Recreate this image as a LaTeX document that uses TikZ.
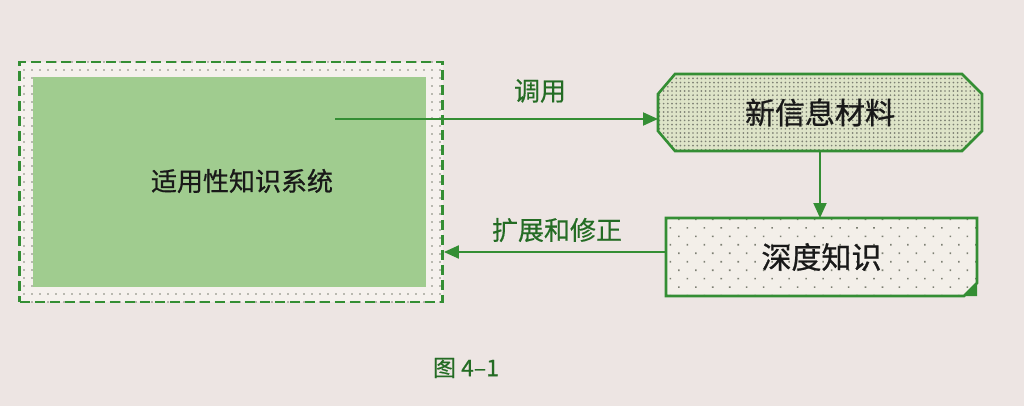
\documentclass[tikz,border=0pt]{standalone}
\usepackage{fontspec}
\newfontfamily\cjk{Noto Sans CJK SC}[FakeBold=0.8]
\newfontfamily\cjklbl{Noto Sans CJK SC}[FakeBold=0.5]
\usetikzlibrary{arrows.meta,patterns.meta,calc,backgrounds}
\definecolor{bg}{RGB}{237,229,227}
\definecolor{lgreen}{RGB}{160,204,143}
\definecolor{lineg}{RGB}{52,142,52}
\definecolor{txtg}{RGB}{36,108,36}
\definecolor{ringfill}{RGB}{245,241,237}
\definecolor{newfill}{RGB}{222,228,200}
\definecolor{deepfill}{RGB}{243,239,233}
\definecolor{dotc}{RGB}{125,128,115}
\begin{document}
\begin{tikzpicture}[x=1pt,y=-1pt,
  boxtext/.style={font=\cjk\fontsize{30}{34}\selectfont, text=black!90},
  systext/.style={font=\cjk\fontsize{26}{30}\selectfont, text=black!90},
  lbl/.style={font=\cjklbl\fontsize{26}{30}\selectfont, text=txtg},
  caption/.style={font=\cjklbl\fontsize{23}{27}\selectfont, text=txtg},
  arr/.style={draw=lineg, line width=2pt, -{Triangle[length=15pt,width=13pt]}},
  boxline/.style={draw=lineg, line width=2.6pt, line join=miter},
  ring/.style={draw=lineg, line width=2.8pt, dash pattern=on 10pt off 5pt,
    preaction={fill=ringfill}, pattern={Dots[distance=8pt,radius=0.9pt]}, pattern color=dotc,
    inner sep=0pt},
  greenbox/.style={fill=lgreen, inner sep=0pt},
  hidden/.style={inner sep=0pt, outer sep=0pt}
]
\useasboundingbox (0,0) rectangle (1024,406);

% outer dotted ring and green system box
\node[ring, minimum width=423pt, minimum height=240pt] (outer) at (231,182) {};
\node[greenbox, minimum width=393pt, minimum height=210pt] (sys) at (229.5,182) {};
\node[systext] (syslabel) at (242,181) {适用性知识系统};

% right boxes (text nodes; outlines drawn on background layer)
\node[boxtext, hidden, minimum width=324pt, minimum height=77pt] (new) at (820,112.5) {新信息材料};
\node[boxtext, hidden, minimum width=311pt, minimum height=78pt] (deep) at (821.5,257) {深度知识};

\begin{scope}[on background layer]
  \fill[bg] (0,0) rectangle (1024,406);
  \draw[boxline, preaction={fill=newfill}, pattern={Dots[distance=4.2pt,radius=0.95pt]}, pattern color=dotc]
    ($(new.north west)+(17,0)$) -- ($(new.north east)+(-20,0)$) -- ($(new.north east)+(0,20)$)
    -- ($(new.south east)+(0,-20)$) -- ($(new.south east)+(-20,0)$) -- ($(new.south west)+(17,0)$)
    -- ($(new.south west)+(0,-20)$) -- ($(new.north west)+(0,20)$) -- cycle;
  \draw[boxline, preaction={fill=deepfill}, pattern={Dots[distance=12pt,radius=1.1pt,angle=45]}, pattern color=dotc]
    (deep.north west) -- (deep.north east) -- ($(deep.south east)+(0,-13)$)
    -- ($(deep.south east)+(-13,0)$) -- (deep.south west) -- cycle;
  \fill[lineg] ($(deep.south east)+(-13,0)$) -- ($(deep.south east)+(0,-13)$) -- (deep.south east) -- cycle;
\end{scope}

% connectors
\coordinate (callstart) at (335,119);
\draw[arr] (callstart) -- (callstart -| new.west);
\node[lbl] (calllabel) at (540,91) {调用};

\draw[arr] (new.south) -- (new.south |- deep.north);

\draw[arr] ([yshift=5pt]deep.west) -- ([yshift=5pt]deep.west -| outer.east);
\node[lbl] (extlabel) at (557,230) {扩展和修正};

\node[caption] (cap) at (466,368) {图 4–1};
\end{tikzpicture}
\end{document}
